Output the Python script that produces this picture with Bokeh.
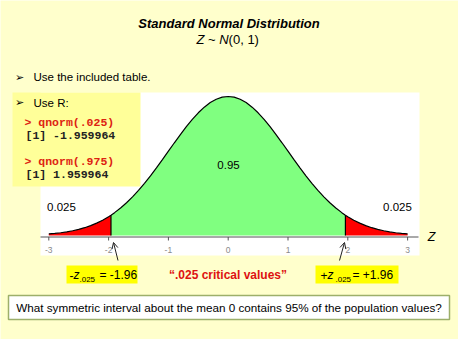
from bokeh.plotting import figure
from bokeh.models import Range1d, Arrow, OpenHead
from bokeh.core.properties import value
from bokeh.embed import file_html
from bokeh.resources import INLINE

# ---------------- data ----------------
z_pts = [-3.0, -2.9, -2.8, -2.7, -2.6, -2.5, -2.4, -2.3, -2.2, -2.1, -2.0, -1.96,
         -1.9, -1.8, -1.7, -1.6, -1.5, -1.4, -1.3, -1.2, -1.1, -1.0, -0.9, -0.8,
         -0.7, -0.6, -0.5, -0.4, -0.3, -0.2, -0.1, 0.0, 0.1, 0.2, 0.3, 0.4, 0.5,
         0.6, 0.7, 0.8, 0.9, 1.0, 1.1, 1.2, 1.3, 1.4, 1.5, 1.6, 1.7, 1.8, 1.9,
         1.96, 2.0, 2.1, 2.2, 2.3, 2.4, 2.5, 2.6, 2.7, 2.8, 2.9, 3.0]
density = [0.0044, 0.0060, 0.0079, 0.0104, 0.0136, 0.0175, 0.0224, 0.0283, 0.0355,
           0.0440, 0.0540, 0.0584, 0.0656, 0.0790, 0.0940, 0.1109, 0.1295, 0.1497,
           0.1714, 0.1942, 0.2179, 0.2420, 0.2661, 0.2897, 0.3123, 0.3332, 0.3521,
           0.3683, 0.3814, 0.3910, 0.3970, 0.3989, 0.3970, 0.3910, 0.3814, 0.3683,
           0.3521, 0.3332, 0.3123, 0.2897, 0.2661, 0.2420, 0.2179, 0.1942, 0.1714,
           0.1497, 0.1295, 0.1109, 0.0940, 0.0790, 0.0656, 0.0584, 0.0540, 0.0440,
           0.0355, 0.0283, 0.0224, 0.0175, 0.0136, 0.0104, 0.0079, 0.0060, 0.0044]
critical = [-1.96, 1.96]
areas = ["0.025", "0.95", "0.025"]
z_ticks = [-3, -2, -1, 0, 1, 2, 3]
tick_labels = ["-3", "-2", "-1", "0", "1", "2", "3"]
r_cmds = ["> qnorm(.025)", "> qnorm(.975)"]
r_outs = ["[1] -1.959964", "[1] 1.959964"]

# ---------------- layout helpers (reference pixel -> data) ----------------
X0, SX = 235.7, 59.8          # z = 0 position, pixels per z unit
Y0, SY = 243.0, 139.0 / 0.3989  # density 0 position, pixels per density unit


def dx(X):
    return (X - X0) / SX


def dy(Y):
    return (Y0 - Y) / SY


BG = "#FFFFCC"
SANS = "Liberation Sans"
MONO = "Liberation Mono"

p = figure(width=458, height=339, x_range=Range1d(dx(8), dx(466)),
           y_range=Range1d(dy(347), dy(8)), output_backend="svg",
           toolbar_location=None, min_border=0, x_axis_location=None,
           y_axis_location=None, background_fill_color=BG, border_fill_color=BG)
p.grid.visible = False
p.outline_line_color = None


def box(X1, X2, Y1, Y2, fill, line=None, lw=1):
    p.quad(left=[dx(X1)], right=[dx(X2)], top=[dy(Y1)], bottom=[dy(Y2)],
           fill_color=fill, line_color=line, line_width=lw)


def txt(X, Y, s, size, color="black", style="normal", align="left",
        font=SANS):
    p.text(x=[dx(X)], y=[dy(Y)], text=[s], text_font=value(font),
           text_font_size=value(f"{size}px"), text_color=color,
           text_font_style=style, text_align=align, text_baseline="middle")


# white plot panel and R box
box(48, 427, 100, 263, "white")
box(20, 148, 100, 194, "#FFFF99")

# fills
c_idx = [i for i, z in enumerate(z_pts) if critical[0] <= z <= critical[1]]
l_idx = [i for i, z in enumerate(z_pts) if z <= critical[0]]
r_idx = [i for i, z in enumerate(z_pts) if z >= critical[1]]
p.varea(x=[z_pts[i] for i in c_idx], y1=0, y2=[density[i] for i in c_idx],
        fill_color="#80FF80")
for idx in (l_idx, r_idx):
    p.varea(x=[z_pts[i] for i in idx], y1=0, y2=[density[i] for i in idx],
            fill_color="#FF0000")
p.line(z_pts, density, line_color="black", line_width=1.2)
crit_d = [density[z_pts.index(c)] for c in critical]
p.segment(x0=critical, y0=[0, 0], x1=critical, y1=crit_d, line_color="black",
          line_width=1.2)

# axis
ax_y = dy(244.5)
p.segment(x0=[dx(48)], y0=[ax_y], x1=[dx(426)], y1=[ax_y], line_color="#555555",
          line_width=1.2)
p.segment(x0=z_ticks, y0=[ax_y] * len(z_ticks), x1=z_ticks,
          y1=[dy(248)] * len(z_ticks), line_color="#555555", line_width=1)
p.text(x=z_ticks, y=[dy(257)] * len(z_ticks), text=tick_labels,
       text_font=value(SANS), text_font_size=value("8.5px"), text_color="#8a8a8a",
       text_align="center", text_baseline="middle")
txt(439, 244, "Z", 12.5, style="italic", align="center")

# area labels
txt(69, 214, areas[0], 11.5, align="center")
txt(236, 172, areas[1], 11.5, align="center")
txt(405, 214, areas[2], 11.5, align="center")

# title
txt(236.5, 31, "Standard Normal Distribution", 13, style="bold italic",
    align="center")
txt(204, 47, "Z", 13, style="italic")
txt(219.3, 47, "~", 13, align="center")
txt(226.7, 47, "N", 13, style="italic")
txt(236.1, 47, "(0, 1)", 13)

# bullets
txt(27, 84.5, "\u27a2", 11, align="center", font="DejaVu Sans")
txt(41, 84.5, "Use the included table.", 11.5)
txt(27, 110, "\u27a2", 11, align="center", font="DejaVu Sans")
txt(41, 110, "Use R:", 11.5)
for k, (cmd, out) in enumerate(zip(r_cmds, r_outs)):
    y1 = 130 + 39 * k
    txt(32, y1, cmd, 11.5, color="#DD2211", style="bold", font=MONO)
    txt(33, y1 + 13, out, 11.5, color="#222222", style="bold", font=MONO)

# critical value boxes
box(74, 145, 273, 291, "#FFFF00")
box(323, 406, 273, 291, "#FFFF00")
txt(77, 282.5, "-", 12)
txt(81, 282.5, "z", 12, style="italic")
txt(87, 286.5, ".025", 8)
txt(107, 282.5, "= " + "%.2f" % critical[0], 12)
txt(328, 282.5, "+", 12)
txt(335, 282.5, "z", 12, style="italic")
txt(343, 286.5, ".025", 8)
txt(360, 282.5, "= +" + "%.2f" % critical[1], 12)
txt(235.5, 282.5, "\u201c.025 critical values\u201d", 12, color="#DD1111",
    style="bold", align="center")

p.add_layout(Arrow(x_start=dx(125.5), y_start=dy(268), x_end=dx(121), y_end=dy(250),
                   line_width=1, line_color="#222222",
                   end=OpenHead(size=6, line_width=1, line_color="#222222")))
p.add_layout(Arrow(x_start=dx(347), y_start=dy(268), x_end=dx(352), y_end=dy(250),
                   line_width=1, line_color="#222222",
                   end=OpenHead(size=6, line_width=1, line_color="#222222")))

# question box
box(16, 457, 303, 327, "white", line="#9DAF6A", lw=1.5)
txt(236.5, 315, "What symmetric interval about the mean 0 contains 95% of the "
    "population values?", 11.7, align="center")

open("out.html", "w").write(file_html(p, INLINE))
